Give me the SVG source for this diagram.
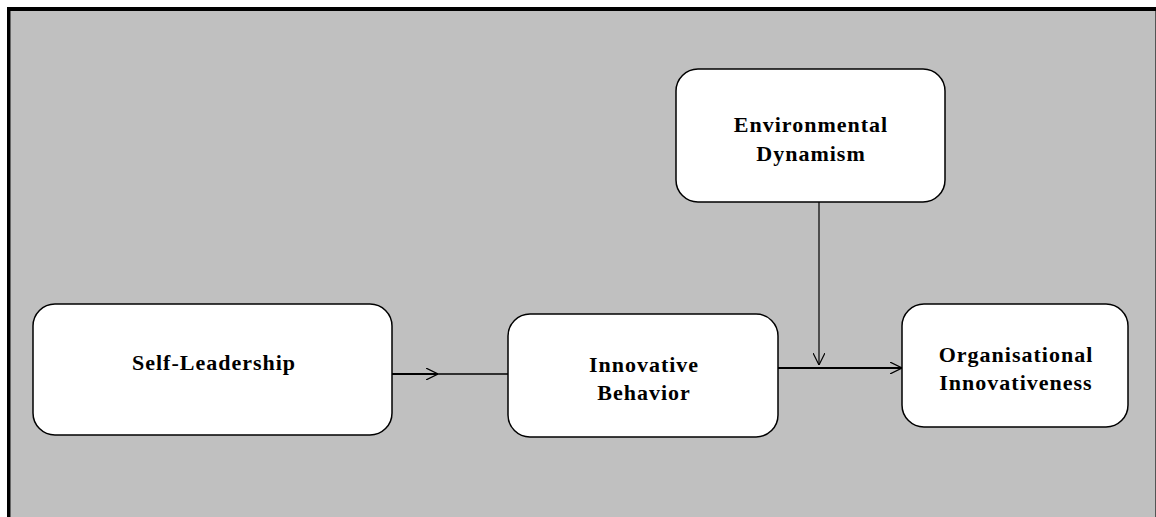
<svg xmlns="http://www.w3.org/2000/svg" width="1156" height="517" viewBox="0 0 1156 517">
<style>
.node rect{fill:#fff;stroke:#000;stroke-width:1.5}
.node text{font-family:"Liberation Serif","Times New Roman",serif;font-weight:bold;font-size:22px;letter-spacing:1px;text-anchor:middle;fill:#000}
.conn{stroke:#000;fill:none}
</style>
<defs>
<marker id="arr" viewBox="0 0 12 12" refX="12" refY="6" markerWidth="12" markerHeight="12" markerUnits="userSpaceOnUse" orient="auto">
<path d="M0,0 L12,6 L0,12" fill="none" stroke="#000" stroke-width="1.2"/>
</marker>
</defs>
<rect x="0" y="0" width="1156" height="517" fill="#fff"/>
<rect x="7" y="7" width="1149" height="510" fill="#c0c0c0"/>
<rect x="7" y="7" width="1149" height="4" fill="#000"/>
<rect x="7" y="7" width="3" height="510" fill="#000"/>
<rect x="10" y="11" width="1" height="506" fill="#666"/>
<rect x="1155" y="11" width="1" height="506" fill="#555"/>
<g id="connectors">
<line class="conn" x1="392" y1="374" x2="508" y2="374" stroke-width="1.3"/>
<line class="conn" x1="392" y1="374" x2="438" y2="374" stroke-width="2" marker-end="url(#arr)"/>
<line class="conn" x1="778" y1="368" x2="902" y2="368" stroke-width="2" marker-end="url(#arr)"/>
<line class="conn" x1="819" y1="202" x2="819" y2="365" stroke-width="1.2" marker-end="url(#arr)"/>
</g>
<g id="self-leadership" class="node">
<rect x="33" y="304" width="359" height="131" rx="22"/>
<text x="214" y="370">Self-Leadership</text>
</g>
<g id="innovative-behavior" class="node">
<rect x="508" y="314" width="270" height="123" rx="22"/>
<text x="644" y="372">Innovative</text>
<text x="644" y="400">Behavior</text>
</g>
<g id="environmental-dynamism" class="node">
<rect x="676" y="69" width="269" height="133" rx="22"/>
<text x="811" y="132">Environmental</text>
<text x="811" y="161">Dynamism</text>
</g>
<g id="organisational-innovativeness" class="node">
<rect x="902" y="304" width="226" height="123" rx="22"/>
<text x="1016" y="362">Organisational</text>
<text x="1016" y="390">Innovativeness</text>
</g>
</svg>
